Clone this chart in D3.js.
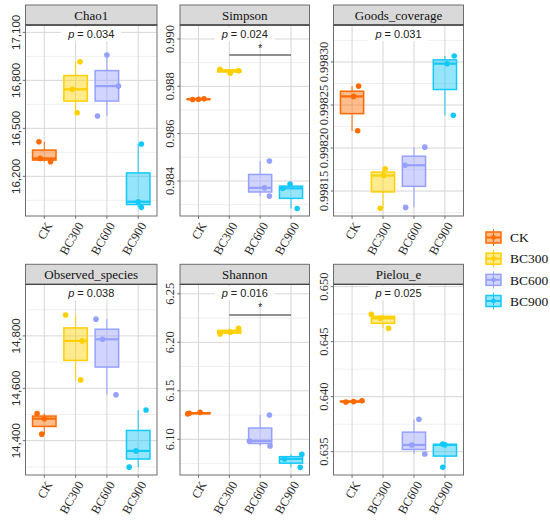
<!DOCTYPE html>
<html><head><meta charset="utf-8">
<script src="https://cdn.jsdelivr.net/npm/d3@7"></script>
<style>body{margin:0;background:#fff}svg{display:block}</style>
</head><body>
<svg id="c" width="550" height="521"></svg>
<script>
// ---- data ----
const groups = ["CK", "BC300", "BC600", "BC900"];
const groupColors = ["#FF6A00", "#FFD000", "#96A0FF", "#14C8FA"];
const panelNames = ["Chao1", "Simpson", "Goods_coverage", "Observed_species", "Shannon", "Pielou_e"];
const pValues = ["0.034", "0.024", "0.031", "0.038", "0.016", "0.025"];

// three replicates per group (CK, BC300, BC600, BC900)
const chao1 = [[16416, 16312, 16291], [16916, 16744, 16597], [16958, 16764, 16577], [16402, 16041, 16006]];
const simpson = [[0.98744, 0.98745, 0.98747], [0.98872, 0.98866, 0.98855], [0.98484, 0.98371, 0.98336], [0.98387, 0.98369, 0.98284]];
const goods = [[0.998272, 0.998260, 0.998220], [0.998176, 0.998168, 0.998130], [0.998201, 0.998180, 0.998131], [0.998307, 0.998298, 0.998238]];
const observed = [[14504, 14484, 14425], [14880, 14781, 14632], [14864, 14787, 14575], [14517, 14361, 14299]];
const shannon = [[6.1262, 6.1278, 6.1268], [6.2086, 6.2103, 6.2144], [6.1250, 6.0983, 6.0931], [6.0845, 6.0797, 6.0711]];
const pielou = [[0.63952, 0.63955, 0.63962], [0.64748, 0.64712, 0.64621], [0.63794, 0.63561, 0.63479], [0.63570, 0.63562, 0.63358]];

// horizontal jitter of each replicate (fraction of category step)
const jitterChao1 = [[-0.17, -0.13, 0.2], [0.14, -0.1, 0.05], [0, 0.37, -0.3], [0.1, 0, 0.1]];
const jitterSimpson = [[-0.19, 0, 0.18], [-0.3, 0.3, 0.03], [0.3, 0.14, 0.3], [-0.03, -0.27, 0.2]];
const jitterGoods = [[0.21, 0.05, 0.18], [0.07, 0.02, -0.09], [0.35, -0.29, -0.27], [0.3, 0.07, 0.27]];
const jitterObserved = [[-0.23, 0, -0.08], [-0.32, 0.21, 0.16], [-0.35, -0.14, 0.29], [0.25, -0.07, -0.29]];
const jitterShannon = [[-0.35, 0.05, -0.3], [-0.3, 0.03, 0.3], [0.3, -0.35, 0.32], [0.35, -0.21, 0.3]];
const jitterPielou = [[-0.2, 0.05, 0.32], [-0.38, -0.08, 0.18], [0.16, -0.07, 0.35], [-0.07, 0.0, -0.07]];

// y axis domains and ticks
const domainChao1 = [15952, 17146], ticksChao1 = [16200, 16500, 16800, 17100];
const domainSimpson = [0.98252, 0.99059], ticksSimpson = [0.984, 0.986, 0.988, 0.990];
const domainGoods = [0.998121, 0.998343], ticksGoods = [0.99815, 0.99820, 0.99825, 0.99830];
const domainObserved = [14269, 14997], ticksObserved = [14400, 14600, 14800];
const domainShannon = [6.0632, 6.2598], ticksShannon = [6.10, 6.15, 6.20, 6.25];
const domainPielou = [0.63288, 0.65021], ticksPielou = [0.635, 0.640, 0.645, 0.650];
const tickFormats = [",", ".3f", ".5f", ",", ".2f", ".3f"];

// significance brackets: [from, to, y value, label]
const sigSimpson = ["BC300", "BC900", 0.98932, "*"];
const sigShannon = ["BC300", "BC900", 6.2282, "*"];

// ---- assemble ----
const panels = [
  {name: panelNames[0], p: pValues[0], vals: chao1, jit: jitterChao1, dom: domainChao1, ticks: ticksChao1, fmt: tickFormats[0], sig: null, sans: true},
  {name: panelNames[1], p: pValues[1], vals: simpson, jit: jitterSimpson, dom: domainSimpson, ticks: ticksSimpson, fmt: tickFormats[1], sig: sigSimpson},
  {name: panelNames[2], p: pValues[2], vals: goods, jit: jitterGoods, dom: domainGoods, ticks: ticksGoods, fmt: tickFormats[2], sig: null},
  {name: panelNames[3], p: pValues[3], vals: observed, jit: jitterObserved, dom: domainObserved, ticks: ticksObserved, fmt: tickFormats[3], sig: null, sans: true},
  {name: panelNames[4], p: pValues[4], vals: shannon, jit: jitterShannon, dom: domainShannon, ticks: ticksShannon, fmt: tickFormats[4], sig: sigShannon},
  {name: panelNames[5], p: pValues[5], vals: pielou, jit: jitterPielou, dom: domainPielou, ticks: ticksPielou, fmt: tickFormats[5], sig: null}
];

const svg = d3.select("#c");
const colX = [[25.5, 157], [180, 309.5], [333.5, 463.5]];
const rowY = [[25, 216], [284.3, 475]];
const stripH = 20;
const SERIF = "'Liberation Serif','Times New Roman',serif";
const SANS = "'Liberation Sans',Arial,sans-serif";
const color = d3.scaleOrdinal().domain(groups).range(groupColors);
const GRID = "#D6D6D6", GRIDMINOR = "#EBEBEB", BORDER = "#6E6E6E", TXT = "#2b2b2b";

panels.forEach((pn, i) => {
  const [x0, x1] = colX[i % 3];
  const [y0, y1] = rowY[Math.floor(i / 3)];
  const x = d3.scalePoint().domain(groups).range([x0, x1]).padding(0.6);
  const y = d3.scaleLinear().domain(pn.dom).range([y1, y0]);
  const step = x.step();
  const g = svg.append("g");

  // minor grid
  const tstep = pn.ticks[1] - pn.ticks[0];
  const minors = [];
  for (let k = -1; k < pn.ticks.length; k++) {
    const v = pn.ticks[0] + (k + 0.5) * tstep;
    if (v > pn.dom[0] && v < pn.dom[1]) minors.push(v);
  }
  g.selectAll(".mn").data(minors).join("line")
    .attr("x1", x0).attr("x2", x1).attr("y1", d => y(d)).attr("y2", d => y(d))
    .attr("stroke", GRIDMINOR).attr("stroke-width", 0.8);
  // major grid
  g.selectAll(".mj").data(pn.ticks).join("line")
    .attr("x1", x0).attr("x2", x1).attr("y1", d => y(d)).attr("y2", d => y(d))
    .attr("stroke", GRID).attr("stroke-width", 1);
  g.selectAll(".vx").data(groups).join("line")
    .attr("x1", d => x(d)).attr("x2", d => x(d)).attr("y1", y0).attr("y2", y1)
    .attr("stroke", GRID).attr("stroke-width", 1);

  // p label
  const pg = g.append("g").attr("transform", `translate(${(x0 + x1) / 2},${y0 + 9})`);
  pg.append("rect").attr("x", -30).attr("y", -7).attr("width", 60).attr("height", 14).attr("fill", "#fff");
  const pt = pg.append("text").attr("text-anchor", "middle").attr("dy", "0.35em")
    .style("font-family", SANS).style("font-size", "11px").attr("fill", "#222");
  pt.append("tspan").style("font-style", "italic").text("p");
  pt.append("tspan").text(" = " + pn.p);

  // sig bracket
  if (pn.sig) {
    const [a, b, v, lab] = pn.sig;
    g.append("line").attr("x1", x(a)).attr("x2", x(b)).attr("y1", y(v)).attr("y2", y(v))
      .attr("stroke", "#222").attr("stroke-width", 1.1);
    g.append("text").attr("x", (x(a) + x(b)) / 2).attr("y", y(v) - 3.5).attr("text-anchor", "middle")
      .style("font-family", SANS).style("font-size", "10px").attr("fill", "#222").text(lab);
  }

  // boxes
  pn.vals.forEach((arr, gi) => {
    const grp = groups[gi];
    const c = color(grp);
    const s = arr.slice().sort(d3.ascending);
    const q1 = d3.quantile(s, 0.25), med = d3.quantile(s, 0.5), q3 = d3.quantile(s, 0.75);
    const cx = x(grp), bw = step * 0.75;
    const bg = g.append("g");
    bg.append("line").attr("x1", cx).attr("x2", cx).attr("y1", y(q3)).attr("y2", y(s[2]))
      .attr("stroke", c).attr("stroke-width", 1);
    bg.append("line").attr("x1", cx).attr("x2", cx).attr("y1", y(q1)).attr("y2", y(s[0]))
      .attr("stroke", c).attr("stroke-width", 1);
    bg.append("rect").attr("x", cx - bw / 2).attr("width", bw)
      .attr("y", y(q3)).attr("height", Math.max(0.01, y(q1) - y(q3)))
      .attr("fill", c).attr("fill-opacity", 0.45).attr("stroke", c).attr("stroke-width", 1.5);
    bg.append("line").attr("x1", cx - bw / 2).attr("x2", cx + bw / 2).attr("y1", y(med)).attr("y2", y(med))
      .attr("stroke", c).attr("stroke-width", 2.2);
    bg.selectAll("circle").data(arr).join("circle")
      .attr("cx", (d, k) => cx + pn.jit[gi][k] * step).attr("cy", d => y(d)).attr("r", 2.8)
      .attr("fill", c);
  });

  // border
  g.append("rect").attr("x", x0).attr("y", y0).attr("width", x1 - x0).attr("height", y1 - y0)
    .attr("fill", "none").attr("stroke", BORDER).attr("stroke-width", 1);
  // strip
  g.append("rect").attr("x", x0).attr("y", y0 - stripH).attr("width", x1 - x0).attr("height", stripH)
    .attr("fill", "#D9D9D9").attr("stroke", BORDER).attr("stroke-width", 1);
  g.append("line").attr("x1", x0).attr("x2", x1).attr("y1", y0).attr("y2", y0).attr("stroke", "#444").attr("stroke-width", 1.3);
  g.append("text").attr("x", (x0 + x1) / 2).attr("y", y0 - stripH / 2).attr("dy", "0.35em")
    .attr("text-anchor", "middle").style("font-family", SERIF).style("font-size", "13px").attr("fill", "#111")
    .text(pn.name);

  // y axis
  const fmt = d3.format(pn.fmt);
  const ya = g.append("g");
  ya.selectAll("line").data(pn.ticks).join("line")
    .attr("x1", x0 - 2.8).attr("x2", x0).attr("y1", d => y(d)).attr("y2", d => y(d))
    .attr("stroke", BORDER).attr("stroke-width", 1);
  ya.selectAll("text").data(pn.ticks).join("text")
    .attr("transform", d => `translate(${x0 - 6},${y(d)}) rotate(-90)`)
    .attr("text-anchor", "middle")
    .style("font-family", pn.sans ? SANS : SERIF).style("font-size", pn.sans ? "11.5px" : "12.5px")
    .attr("fill", TXT).text(d => fmt(d));

  // x axis
  const xa = g.append("g");
  xa.selectAll("line").data(groups).join("line")
    .attr("x1", d => x(d)).attr("x2", d => x(d)).attr("y1", y1).attr("y2", y1 + 2.8)
    .attr("stroke", BORDER).attr("stroke-width", 1);
  xa.selectAll("text").data(groups).join("text")
    .attr("transform", d => `translate(${x(d) + 1},${y1 + 5}) rotate(-60)`)
    .attr("text-anchor", "end").attr("dy", "0.7em")
    .style("font-family", SERIF).style("font-size", "12.5px").attr("fill", TXT).text(d => d);
});

// legend
const lg = svg.append("g");
const legY = d3.scalePoint().domain(groups).range([237.5, 301]);
groups.forEach(grp => {
  const c = color(grp), cy = legY(grp), cx = 493.5;
  const k = lg.append("g");
  k.append("line").attr("x1", cx).attr("x2", cx).attr("y1", cy - 8.5).attr("y2", cy + 8.5).attr("stroke", c).attr("stroke-width", 1);
  k.append("rect").attr("x", cx - 7.5).attr("y", cy - 5.5).attr("width", 15).attr("height", 11)
    .attr("fill", c).attr("fill-opacity", 0.45).attr("stroke", c).attr("stroke-width", 1.5);
  k.append("line").attr("x1", cx - 7.5).attr("x2", cx + 7.5).attr("y1", cy).attr("y2", cy).attr("stroke", c).attr("stroke-width", 2);
  k.append("circle").attr("cx", cx).attr("cy", cy).attr("r", 2.4).attr("fill", c);
  lg.append("text").attr("x", 510).attr("y", cy).attr("dy", "0.35em")
    .style("font-family", SERIF).style("font-size", "13.5px").attr("fill", "#111").text(grp);
});
</script>
</body></html>
